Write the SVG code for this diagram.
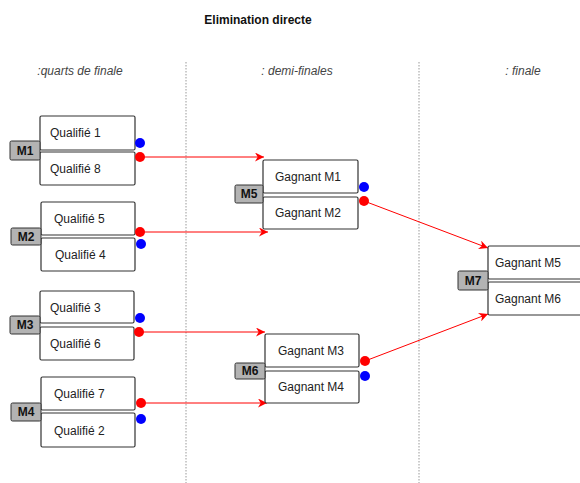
<svg xmlns="http://www.w3.org/2000/svg" width="580" height="483" viewBox="0 0 580 483">
<style>
.bx{fill:#fff;stroke:#333;stroke-width:1.2}
.lb{fill:#b3b3b3;stroke:#333;stroke-width:1}
.t{font-family:"Liberation Sans",Arial,sans-serif;font-size:12px;fill:#222}
.lt{font-family:"Liberation Sans",Arial,sans-serif;font-size:12px;font-weight:bold;fill:#111;text-anchor:middle}
.col{font-family:"Liberation Sans",Arial,sans-serif;font-size:12px;font-style:italic;fill:#444;text-anchor:middle}
.sep{stroke:#999;stroke-width:1;stroke-dasharray:1.5,1.5}
.c{stroke:#ff0000;stroke-width:1;fill:none}
.r{fill:#ff0000}
.b{fill:#0000ff}
</style>
<defs>
<marker id="ah" viewBox="0 0 10 10" refX="10" refY="5" markerWidth="9" markerHeight="9" markerUnits="userSpaceOnUse" orient="auto">
<path d="M0,0 L10,5 L0,10 L3,5 Z" fill="#ff0000"/>
</marker>
</defs>
<rect width="580" height="483" fill="#fff"/>
<text x="258" y="24" class="lt" style="font-size:12px">Elimination directe</text>
<text x="80" y="75" class="col">:quarts de finale</text>
<text x="297" y="75" class="col">: demi-finales</text>
<text x="523" y="75" class="col">: finale</text>
<line class="sep" x1="186" y1="62" x2="186" y2="483"/>
<line class="sep" x1="419" y1="62" x2="419" y2="483"/>

<g id="connectors">
<line class="c" x1="140" y1="157" x2="264" y2="157" marker-end="url(#ah)"/>
<line class="c" x1="140" y1="232" x2="268" y2="232" marker-end="url(#ah)"/>
<line class="c" x1="140" y1="332" x2="265" y2="332" marker-end="url(#ah)"/>
<line class="c" x1="141" y1="403" x2="267" y2="403" marker-end="url(#ah)"/>
<line class="c" x1="364" y1="201" x2="488" y2="248" marker-end="url(#ah)"/>
<line class="c" x1="365" y1="361" x2="488" y2="314" marker-end="url(#ah)"/>
</g>

<g id="M1">
<rect class="bx" x="40" y="116" width="95" height="34" rx="1.5"/>
<rect class="bx" x="40" y="152" width="95" height="33" rx="1.5"/>
<rect class="lb" x="10" y="141" width="30" height="19" rx="1.5"/>
<text class="lt" x="25" y="155">M1</text>
<text class="t" x="50" y="137">Qualifié 1</text>
<text class="t" x="50" y="173">Qualifié 8</text>
<circle class="b" cx="140" cy="143" r="5"/>
<circle class="r" cx="140" cy="157" r="5"/>
</g>

<g id="M2">
<rect class="bx" x="41" y="202" width="94" height="33" rx="1.5"/>
<rect class="bx" x="41" y="238" width="94" height="33" rx="1.5"/>
<rect class="lb" x="11" y="228" width="30" height="17" rx="1.5"/>
<text class="lt" x="26" y="241">M2</text>
<text class="t" x="54" y="223">Qualifié 5</text>
<text class="t" x="55" y="259">Qualifié 4</text>
<circle class="r" cx="140" cy="232" r="5"/>
<circle class="b" cx="141" cy="244" r="5"/>
</g>

<g id="M3">
<rect class="bx" x="40" y="291" width="94" height="32" rx="1.5"/>
<rect class="bx" x="40" y="327" width="94" height="33" rx="1.5"/>
<rect class="lb" x="10" y="316" width="30" height="18" rx="1.5"/>
<text class="lt" x="25" y="329">M3</text>
<text class="t" x="50" y="312">Qualifié 3</text>
<text class="t" x="50" y="348">Qualifié 6</text>
<circle class="b" cx="140" cy="318" r="5"/>
<circle class="r" cx="139" cy="332" r="5"/>
</g>

<g id="M4">
<rect class="bx" x="41" y="377" width="94" height="33" rx="1.5"/>
<rect class="bx" x="41" y="413" width="94" height="34" rx="1.5"/>
<rect class="lb" x="11" y="403" width="30" height="18" rx="1.5"/>
<text class="lt" x="26" y="416">M4</text>
<text class="t" x="54" y="398">Qualifié 7</text>
<text class="t" x="54" y="435">Qualifié 2</text>
<circle class="r" cx="141" cy="403" r="5"/>
<circle class="b" cx="141" cy="419" r="5"/>
</g>

<g id="M5">
<rect class="bx" x="263" y="160" width="95" height="33" rx="1.5"/>
<rect class="bx" x="263" y="197" width="95" height="32" rx="1.5"/>
<rect class="lb" x="235" y="185" width="28" height="18" rx="1.5"/>
<text class="lt" x="249" y="198">M5</text>
<text class="t" x="275" y="181">Gagnant M1</text>
<text class="t" x="275" y="217">Gagnant M2</text>
<circle class="b" cx="364" cy="187" r="5"/>
<circle class="r" cx="364" cy="201" r="5"/>
</g>

<g id="M6">
<rect class="bx" x="265" y="334" width="94" height="33" rx="1.5"/>
<rect class="bx" x="265" y="371" width="94" height="32" rx="1.5"/>
<rect class="lb" x="235" y="363" width="30" height="16" rx="1.5"/>
<text class="lt" x="250" y="375">M6</text>
<text class="t" x="278" y="355">Gagnant M3</text>
<text class="t" x="278" y="391">Gagnant M4</text>
<circle class="r" cx="365" cy="361" r="5"/>
<circle class="b" cx="365" cy="376" r="5"/>
</g>

<g id="M7">
<rect class="bx" x="488" y="246" width="96" height="33" rx="1.5"/>
<rect class="bx" x="488" y="282" width="96" height="33" rx="1.5"/>
<rect class="lb" x="458" y="271" width="30" height="19" rx="1.5"/>
<text class="lt" x="473" y="285">M7</text>
<text class="t" x="495" y="267">Gagnant M5</text>
<text class="t" x="495" y="303">Gagnant M6</text>
</g>
</svg>
